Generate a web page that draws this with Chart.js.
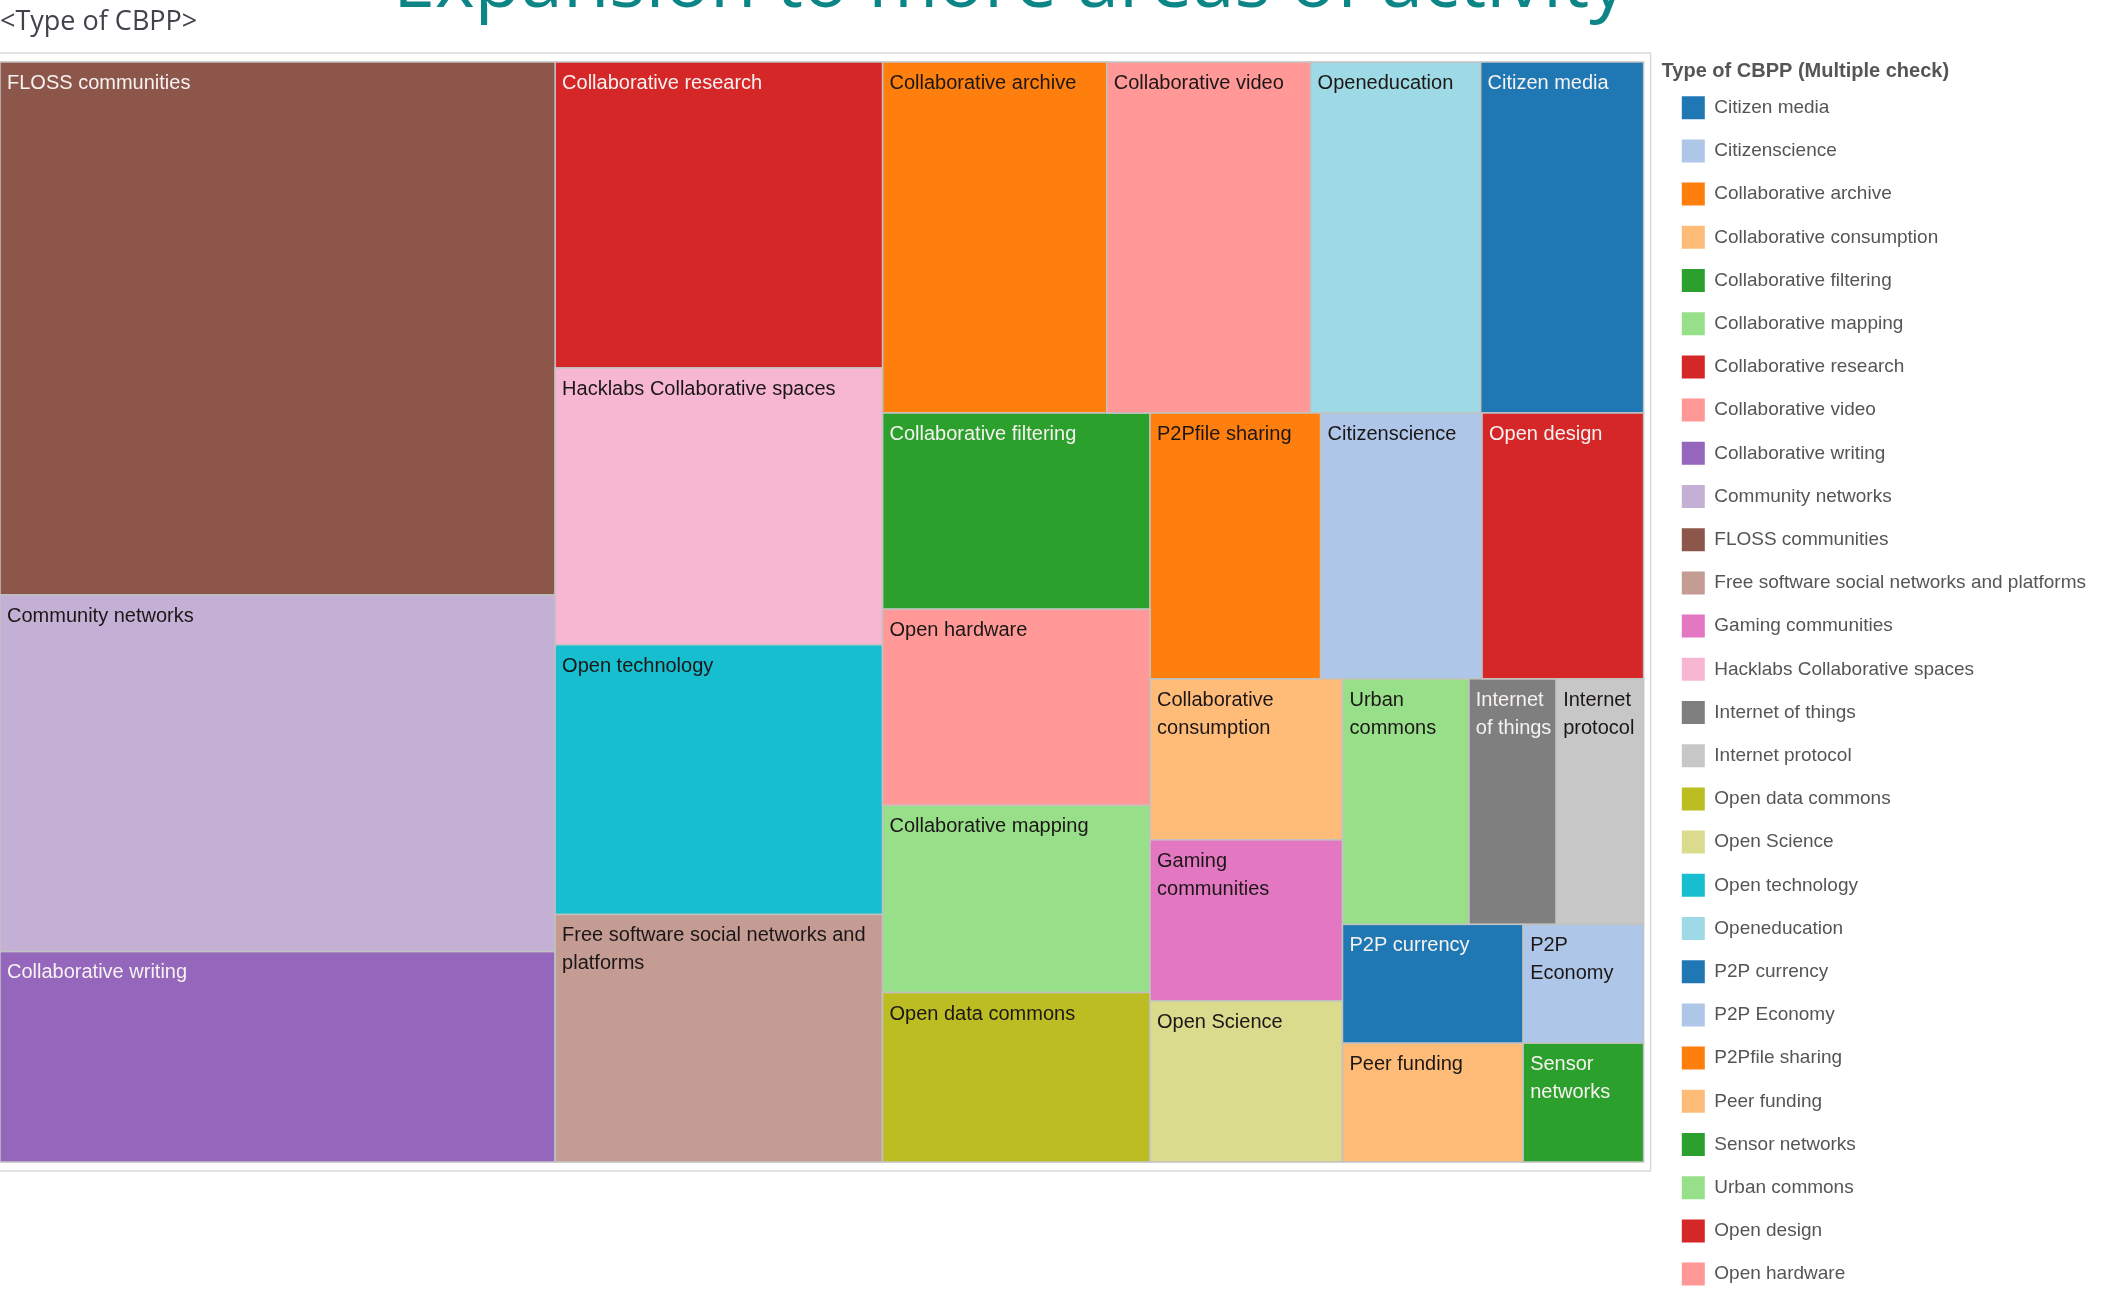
<!DOCTYPE html>
<html>
<head>
<meta charset="utf-8">
<title>Type of CBPP</title>
<script src="https://cdn.jsdelivr.net/npm/chart.js@4.4.1/dist/chart.umd.min.js"></script>
<style>
  html, body { margin: 0; padding: 0; background: #fff; overflow: hidden; }
  #wrap { width: 2103px; height: 1291px; position: relative; }
</style>
</head>
<body>
<div id="wrap"><canvas id="treeChart"></canvas></div>
<script>
// categories in legend order
const categories = [
  'Citizen media', 'Citizenscience', 'Collaborative archive', 'Collaborative consumption',
  'Collaborative filtering', 'Collaborative mapping', 'Collaborative research', 'Collaborative video',
  'Collaborative writing', 'Community networks', 'FLOSS communities',
  'Free software social networks and platforms', 'Gaming communities', 'Hacklabs Collaborative spaces',
  'Internet of things', 'Internet protocol', 'Open data commons', 'Open Science', 'Open technology',
  'Openeducation', 'P2P currency', 'P2P Economy', 'P2Pfile sharing', 'Peer funding',
  'Sensor networks', 'Urban commons', 'Open design', 'Open hardware'
];
// number of cases
const counts = [
  24, 18, 33, 13,
  22, 21, 42, 30,
  49, 83, 124,
  34, 13, 38,
  9, 9, 19, 13, 37,
  25, 9, 6, 19, 9,
  6, 13, 18, 22
];
const colors = [
  '#1f77b4', '#aec7e8', '#ff7f0e', '#ffbb78',
  '#2ca02c', '#98df8a', '#d62728', '#ff9896',
  '#9467bd', '#c5b0d5', '#8c564b',
  '#c49c94', '#e377c2', '#f7b6d2',
  '#7f7f7f', '#c7c7c7', '#bcbd22', '#dbdb8d', '#17becf',
  '#9edae5', '#1f77b4', '#aec7e8', '#ff7f0e', '#ffbb78',
  '#2ca02c', '#98df8a', '#d62728', '#ff9896'
];
// how the sorted cells are grouped into strips, like the tableau layout
const stripSizes = [3, 4, 4, 4, 3, 3, 3, 2, 2];
const stripDirs = ['col', 'col', 'row', 'col', 'row', 'col', 'row', 'col', 'col'];

const slideTitle = 'Expansion to more areas of activity';

// strip layout in unit coordinates (0..1 on both axes)
function layoutCells() {
  const order = counts.map((v, i) => i).sort((a, b) => counts[b] - counts[a]);
  const cells = [];
  let rx0 = 0, ry0 = 0;
  const rx1 = 1, ry1 = 1;
  let remaining = counts.reduce((a, b) => a + b, 0);
  let k = 0;
  stripSizes.forEach((n, s) => {
    const items = order.slice(k, k + n);
    k += n;
    const sum = items.reduce((a, i) => a + counts[i], 0);
    if (stripDirs[s] === 'col') {
      const w = (rx1 - rx0) * sum / remaining;
      let yy = ry0;
      items.forEach(i => {
        const h = (ry1 - ry0) * counts[i] / sum;
        cells[i] = { x0: rx0, x1: rx0 + w, y0: yy, y1: yy + h };
        yy += h;
      });
      rx0 += w;
    } else {
      const h = (ry1 - ry0) * sum / remaining;
      let xx = rx0;
      items.forEach(i => {
        const w = (rx1 - rx0) * counts[i] / sum;
        cells[i] = { x0: xx, x1: xx + w, y0: ry0, y1: ry0 + h };
        xx += w;
      });
      ry0 += h;
    }
    remaining -= sum;
  });
  return cells;
}
const cells = layoutCells();

function labelColor(hex) {
  const r = parseInt(hex.slice(1, 3), 16), g = parseInt(hex.slice(3, 5), 16), b = parseInt(hex.slice(5, 7), 16);
  return (0.299 * r + 0.587 * g + 0.114 * b) < 135 ? '#f6f2f0' : '#1c1717';
}

function wrapText(ctx, text, maxW) {
  const words = text.split(' ');
  const lines = [];
  let line = words[0];
  for (let i = 1; i < words.length; i++) {
    const test = line + ' ' + words[i];
    if (ctx.measureText(test).width <= maxW) line = test;
    else { lines.push(line); line = words[i]; }
  }
  lines.push(line);
  return lines;
}

const treemapPlugin = {
  id: 'treemapCells',
  beforeDraw(chart) {
    const { ctx, chartArea: a } = chart;
    ctx.save();
    ctx.fillStyle = '#fff';
    ctx.fillRect(0, 0, chart.width, chart.height);
    // slide heading, cut off by the top edge of the screenshot
    ctx.font = '100px "Open Sans"';
    const fs = 100 * 1234 / ctx.measureText(slideTitle).width;
    ctx.font = fs.toFixed(1) + 'px "Open Sans"';
    ctx.fillStyle = '#0b8585';
    ctx.textAlign = 'center';
    ctx.textBaseline = 'alphabetic';
    ctx.fillText(slideTitle, 1010, 7);
    // outer frame
    ctx.strokeStyle = '#d9d9d9';
    ctx.lineWidth = 1.5;
    ctx.strokeRect(a.left - 8, a.top - 9, a.right - a.left + 15, a.bottom - a.top + 18);
    ctx.restore();
  },
  afterDatasetsDraw(chart) {
    const { ctx } = chart;
    const xs = chart.scales.x, ys = chart.scales.y;
    ctx.save();
    chart.data.datasets.forEach(ds => {
      const c = ds.cell;
      const left = xs.getPixelForValue(c.x0), right = xs.getPixelForValue(c.x1);
      const top = ys.getPixelForValue(c.y0), bottom = ys.getPixelForValue(c.y1);
      ctx.fillStyle = ds.backgroundColor;
      ctx.fillRect(left, top, right - left, bottom - top);
      ctx.strokeStyle = '#c2c2c2';
      ctx.lineWidth = 1.5;
      ctx.strokeRect(left, top, right - left, bottom - top);

      ctx.font = '20px "Liberation Sans", Arial, sans-serif';
      ctx.fillStyle = labelColor(ds.backgroundColor);
      ctx.textAlign = 'left';
      ctx.textBaseline = 'alphabetic';
      const lines = wrapText(ctx, ds.label, (right - left) * 0.95);
      lines.forEach((ln, i) => ctx.fillText(ln, left + 7, top + 27 + i * 28));
    });
    ctx.restore();
  }
};

const ctx = document.getElementById('treeChart').getContext('2d');
const treeChart = new Chart(ctx, {
  type: 'scatter',
  data: {
    datasets: categories.map((name, i) => ({
      label: name,
      data: [{ x: (cells[i].x0 + cells[i].x1) / 2, y: (cells[i].y0 + cells[i].y1) / 2 }],
      backgroundColor: colors[i],
      borderColor: colors[i],
      borderWidth: 0,
      pointRadius: 0,
      pointHoverRadius: 0,
      cell: cells[i]
    }))
  },
  options: {
    responsive: true,
    maintainAspectRatio: false,
    animation: false,
    devicePixelRatio: 1,
    layout: { padding: { left: 0, top: 0, right: 7, bottom: -20 } },
    scales: {
      x: {
        type: 'linear', min: 0, max: 1, position: 'bottom',
        grid: { display: false }, border: { display: false }, ticks: { display: false },
        afterFit: s => { s.height = 149; }
      },
      y: {
        type: 'linear', min: 0, max: 1, reverse: true, position: 'right',
        grid: { display: false }, border: { display: false }, ticks: { display: false },
        afterFit: s => { s.width = 18; }
      }
    },
    plugins: {
      title: {
        display: true,
        text: '<Type of CBPP>',
        align: 'start',
        color: '#42424c',
        font: { family: '"Open Sans"', size: 27, weight: 'normal', lineHeight: 1.2 },
        padding: { top: 6, bottom: 23.6 }
      },
      legend: {
        position: 'right',
        align: 'start',
        maxWidth: 445,
        title: {
          display: true,
          text: 'Type of CBPP (Multiple check)',
          position: 'start',
          color: '#555',
          font: { family: '"Liberation Sans", Arial', size: 20, weight: 'bold', lineHeight: 1.2 },
          padding: { top: 61, bottom: -9 }
        },
        labels: {
          boxWidth: 23,
          boxHeight: 23,
          padding: 20.2,
          color: '#555',
          font: { family: '"Liberation Sans", Arial', size: 19 }
        }
      },
      tooltip: { enabled: false }
    }
  },
  plugins: [treemapPlugin]
});
</script>
</body>
</html>
